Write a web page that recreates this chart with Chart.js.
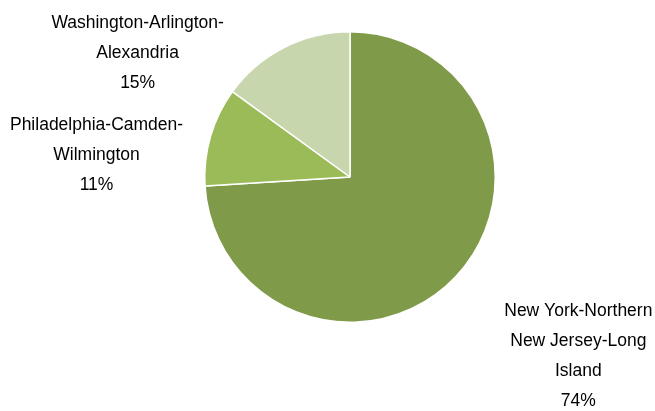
<!DOCTYPE html>
<html>
<head>
<meta charset="utf-8">
<script src="https://cdn.jsdelivr.net/npm/chart.js@4/dist/chart.umd.min.js"></script>
<style>
  html, body { margin: 0; padding: 0; background: #fff; }
  #wrap { width: 655px; height: 411px; }
</style>
</head>
<body>
<div id="wrap"><canvas id="myChart" width="655" height="411"></canvas></div>
<script>
var regiones = ['New York-Northern\nNew Jersey-Long\nIsland', 'Philadelphia-Camden-\nWilmington', 'Washington-Arlington-\nAlexandria'];
var porcentajes = [74, 11, 15];
var colores = ['#7f9b4a', '#9bbb59', '#c7d6ad'];

// centre of each label block (middle baseline), relative to the pie centre, in radii
var posEtiquetas = [[1.572, 1.269], [-1.745, -0.114], [-1.462, -0.817]];

var etiquetasPlugin = {
  id: 'etiquetas',
  afterDraw: function (chart) {
    var ctx = chart.ctx;
    var arcos = chart.getDatasetMeta(0).data;
    ctx.save();
    ctx.font = '17.5px "Liberation Sans", Arial, sans-serif';
    ctx.fillStyle = '#000';
    ctx.textAlign = 'center';
    ctx.textBaseline = 'alphabetic';
    var alto = 30;
    for (var i = 0; i < arcos.length; i++) {
      var a = arcos[i];
      var cx = a.x + posEtiquetas[i][0] * a.outerRadius;
      var cy = a.y + posEtiquetas[i][1] * a.outerRadius;
      var lineas = regiones[i].split('\n');
      lineas.push(porcentajes[i] + '%');
      var y0 = cy - (lineas.length - 1) * alto / 2;
      for (var j = 0; j < lineas.length; j++) {
        ctx.fillText(lineas[j], cx, y0 + j * alto);
      }
    }
    ctx.restore();
  }
};

var graficar = document.getElementById('myChart').getContext('2d');
var grafico = new Chart(graficar, {
  type: 'pie',
  data: {
    labels: regiones,
    datasets: [{
      data: porcentajes,
      backgroundColor: colores,
      borderColor: '#ffffff',
      borderWidth: 1.5
    }]
  },
  options: {
    responsive: false,
    animation: false,
    layout: { padding: { left: 200, right: 155, top: 31, bottom: 88 } },
    plugins: {
      legend: { display: false },
      tooltip: { enabled: false }
    }
  },
  plugins: [etiquetasPlugin]
});
</script>
</body>
</html>
